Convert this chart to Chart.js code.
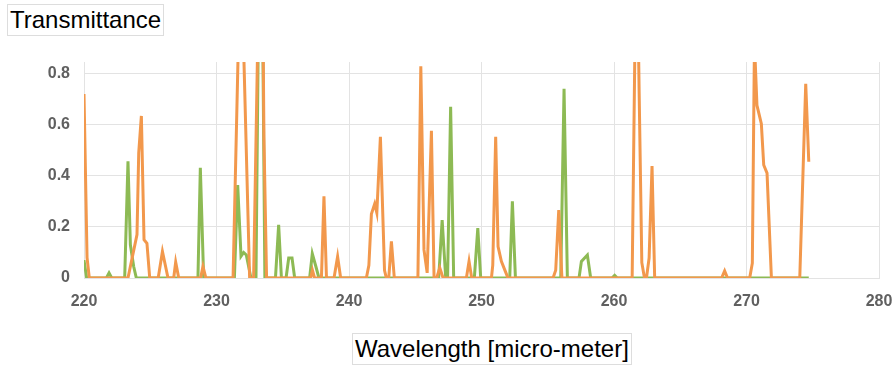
<!DOCTYPE html>
<html>
<head>
<meta charset="utf-8">
<script src="https://cdn.jsdelivr.net/npm/chart.js@4.4.0/dist/chart.umd.min.js"></script>
<style>
  body { margin: 0; background: #fff; }
  #wrap { position: relative; width: 895px; height: 365px; }
  .lbl {
    position: absolute;
    font-family: "Liberation Sans", Arial, sans-serif;
    font-size: 24px;
    color: #000;
    background: #fff;
    border: 1px solid #ddd;
    padding: 0 2px;
    line-height: 30px;
  }
</style>
</head>
<body>
<div id="wrap">
  <canvas id="myChart" width="895" height="365"></canvas>
  <div class="lbl" style="left:7px; top:4px;">Transmittance</div>
  <div class="lbl" style="left:352px; top:333px;">Wavelength [micro-meter]</div>
</div>
<script>
// orange series
const orangeWl = [220.0, 220.23, 220.4, 223.32, 224.0, 224.13, 224.33, 224.53, 224.75, 224.96,
  225.6, 225.92, 226.34, 226.77, 226.92, 227.15, 228.8, 228.98, 229.2,
  231.25, 231.83, 232.5, 232.8, 233.17, 233.5, 233.58, 233.78,
  237.1, 237.24, 237.4, 237.92, 238.11, 238.3, 238.87, 239.14, 239.37,
  241.31, 241.5, 241.69, 241.94, 242.1, 242.37, 242.68, 242.82, 243.0, 243.2, 243.42,
  245.2, 245.42, 245.66, 245.9, 246.22, 246.42, 246.62, 246.85, 247.1,
  248.86, 249.06, 249.26, 250.75, 250.85, 251.07, 251.25, 251.5, 251.8, 252.0,
  255.4, 255.6, 255.83, 256.07, 261.37, 261.6, 261.85, 261.9, 262.1, 262.3,
  262.45, 262.65, 262.87, 263.07, 268.12, 268.35, 268.57,
  270.24, 270.44, 270.6, 270.79, 271.12, 271.3, 271.55, 271.88, 274.02, 274.47, 274.7];
const orangeT = [0.72, 0.08, 0, 0, 0.17, 0.49, 0.634, 0.15, 0.136, 0,
  0, 0.104, 0, 0, 0.062, 0, 0, 0.045, 0,
  0, 1.33, 0, 0, 1.1, 1.05, 0.55, 0,
  0, 0.03, 0, 0, 0.32, 0, 0, 0.084, 0,
  0, 0.05, 0.25, 0.29, 0.255, 0.552, 0.03, 0, 0, 0.143, 0,
  0, 0.828, 0.11, 0.02, 0.576, 0, 0, 0.04, 0,
  0, 0.065, 0, 0, 0.05, 0.552, 0.123, 0.065, 0.026, 0,
  0, 0.03, 0.266, 0, 0, 1.0, 0.9, 0.72, 0.06, 0,
  0, 0.078, 0.438, 0, 0, 0.028, 0,
  0, 0.058, 0.92, 0.675, 0.604, 0.442, 0.41, 0, 0, 0.76, 0.455];

// green series
const greenWl = [220.0, 220.2, 221.69, 221.89, 222.09, 223.07, 223.32, 223.5, 223.75, 223.95,
  228.6, 228.78, 229.03, 231.35, 231.6, 231.85, 232.05, 232.25, 232.6,
  232.98, 233.2, 233.45, 233.65, 234.45, 234.69, 234.9, 235.25, 235.45, 235.7, 235.9,
  237.03, 237.23, 237.5, 237.73, 246.77, 247.03, 247.3, 247.44, 247.67, 247.9,
  249.46, 249.72, 249.94, 252.13, 252.33, 252.56, 255.98, 256.23, 256.48,
  257.36, 257.54, 257.99, 258.24, 259.85, 260.05, 260.25, 274.7];
const greenT = [0.07, 0, 0, 0.02, 0, 0, 0.457, 0.13, 0.045, 0,
  0, 0.431, 0, 0, 0.364, 0.085, 0.1, 0.09, 0,
  0, 1.2, 1.2, 0, 0, 0.208, 0, 0, 0.078, 0.078, 0,
  0, 0.095, 0.045, 0, 0, 0.227, 0, 0, 0.67, 0,
  0, 0.195, 0, 0, 0.3, 0, 0, 0.74, 0,
  0, 0.065, 0.09, 0, 0, 0.01, 0, 0];

const xTicks = [220, 230, 240, 250, 260, 270, 280];
const yTicks = [0, 0.2, 0.4, 0.6, 0.8];

const toPoints = (xs, ys) => xs.map((x, i) => ({ x: x, y: ys[i] }));

const tickFont = { family: "'Liberation Sans', Arial, sans-serif", size: 16, weight: "bold" };

new Chart(document.getElementById("myChart").getContext("2d"), {
  type: "line",
  data: {
    datasets: [
      {
        label: "Series 1",
        data: toPoints(orangeWl, orangeT),
        borderColor: "rgb(242, 152, 76)",
        borderWidth: 3,
        pointRadius: 0,
        tension: 0,
      },
      {
        label: "Series 2",
        data: toPoints(greenWl, greenT),
        borderColor: "rgb(141, 186, 84)",
        borderWidth: 3,
        pointRadius: 0,
        tension: 0,
      },
    ],
  },
  options: {
    responsive: false,
    animation: false,
    devicePixelRatio: 1,
    layout: { padding: { left: 0, right: 16, top: 62, bottom: 0 } },
    plugins: { legend: { display: false }, tooltip: { enabled: false } },
    scales: {
      x: {
        type: "linear",
        min: xTicks[0],
        max: xTicks[xTicks.length - 1],
        afterBuildTicks: (scale) => { scale.ticks = xTicks.map((v) => ({ value: v })); },
        afterFit: (scale) => {
          scale.height = 87;
          scale.paddingLeft = 0;
          scale.paddingRight = 0;
        },
        grid: { color: "#e3e3e3", drawTicks: false },
        border: { color: "#e3e3e3" },
        ticks: { color: "#606060", font: tickFont, padding: 14 },
      },
      y: {
        min: 0,
        max: 0.845,
        afterBuildTicks: (scale) => { scale.ticks = yTicks.map((v) => ({ value: v })); },
        afterFit: (scale) => { scale.width = 84; },
        grid: { color: "#e3e3e3", drawTicks: false },
        border: { color: "#e3e3e3" },
        ticks: { color: "#606060", font: tickFont, padding: 14, callback: (v) => (v === 0 ? "0" : v.toFixed(1)) },
      },
    },
  },
});
</script>
</body>
</html>
